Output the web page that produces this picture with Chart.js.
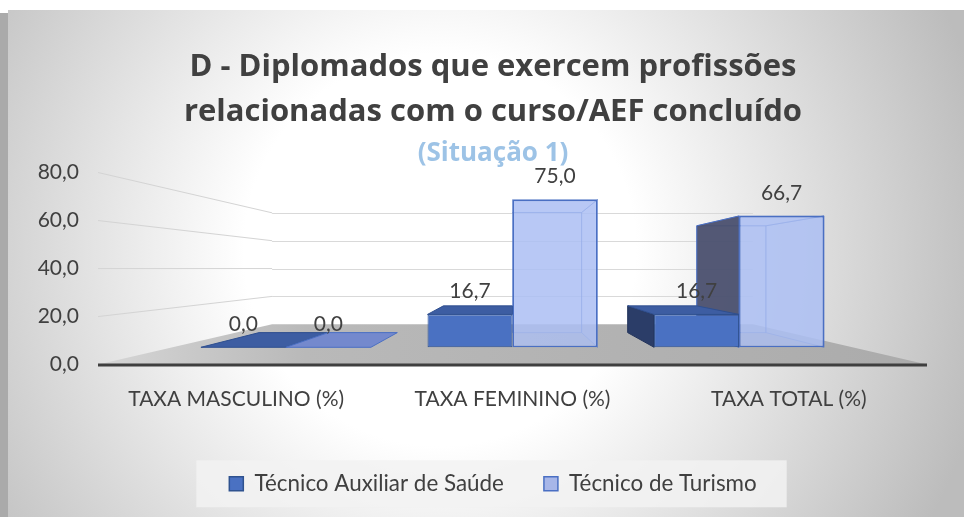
<!DOCTYPE html>
<html>
<head>
<meta charset="utf-8">
<script src="https://cdn.jsdelivr.net/npm/chart.js@4.4.1/dist/chart.umd.min.js"></script>
<style>
  html, body { margin: 0; padding: 0; background: #fff; }
  #wrap { width: 964px; height: 517px; position: relative; }
</style>
</head>
<body>
<div id="wrap"><canvas id="chart"></canvas></div>
<script>
const categories = ["TAXA MASCULINO (%)", "TAXA FEMININO (%)", "TAXA TOTAL (%)"];
const seriesNames = ["Técnico Auxiliar de Saúde", "Técnico de Turismo"];
const saude = [0.0, 16.7, 16.7];
const turismo = [0.0, 75.0, 66.7];
const yTicks = [0, 20, 40, 60, 80];
const titleLines = ["D - Diplomados que exercem profissões", "relacionadas com o curso/AEF concluído"];
const subtitleText = "(Situação 1)";

// perspective depths (1 = front of the floor, vanishing point in the middle of the plot)
const DEPTH_FRONT = 0.82;
const DEPTH_BACK = 0.667;
const DEPTH_WALL = 0.58;
const FONT = "Lato, 'Open Sans', sans-serif";
const TITLE_FONT = "'Open Sans', Lato, sans-serif";
const TEXT = "#404040";

const yMin = yTicks[0];
const yMax = yTicks[yTicks.length - 1];
const yMid = (yMin + yMax) / 2;
const yHalf = (yMax - yMin) / 2 / DEPTH_FRONT;
const xMid = (categories.length - 1) / 2;
const xHalf = categories.length / 2 / DEPTH_FRONT;

function fmt(v) {
  return Number(v).toFixed(1).replace(".", ",");
}

function proj(chart, px, py, k) {
  const a = chart.chartArea;
  const cx = (a.left + a.right) / 2;
  const cy = (a.top + a.bottom) / 2;
  return [cx + (px - cx) * k, cy + (py - cy) * k];
}

function poly(ctx, pts, fill, stroke, lw) {
  ctx.beginPath();
  ctx.moveTo(pts[0][0], pts[0][1]);
  for (let i = 1; i < pts.length; i++) ctx.lineTo(pts[i][0], pts[i][1]);
  ctx.closePath();
  if (fill) {
    ctx.fillStyle = fill;
    ctx.fill();
  }
  if (stroke) {
    ctx.strokeStyle = stroke;
    ctx.lineWidth = lw || 1;
    ctx.stroke();
  }
}

// corners of a bar: front face comes from the element, back face is pushed in depth
function barBox(chart, el) {
  const r = DEPTH_BACK / DEPTH_FRONT;
  const x0 = el.x - el.width / 2;
  const x1 = el.x + el.width / 2;
  const yt = Math.min(el.y, el.base);
  const yb = Math.max(el.y, el.base);
  return {
    x0, x1, yt, yb,
    f: [[x0, yt], [x1, yt], [x1, yb], [x0, yb]],
    b: [proj(chart, x0, yt, r), proj(chart, x1, yt, r), proj(chart, x1, yb, r), proj(chart, x0, yb, r)],
  };
}

const faceStyles = [
  { side: "#2b3d68", sideLine: "#22335a", top: "#3d5da2", topLine: "#2f4f8f", inner: null },
  { side: "rgba(72,78,108,0.93)", sideLine: "#4a6fc3", top: "#7489cd", topLine: "#4a6fc3", inner: "rgba(175,192,240,0.35)" },
];

const box3d = {
  id: "box3d",
  beforeDraw(chart) {
    const ctx = chart.ctx;
    const w = chart.width;
    const h = chart.height;
    ctx.save();
    ctx.fillStyle = "#ffffff";
    ctx.fillRect(0, 0, w, h);
    const g = ctx.createRadialGradient(440, 250, 0, 440, 250, 560);
    g.addColorStop(0, "#ffffff");
    g.addColorStop(0.35, "#ffffff");
    g.addColorStop(1, "#bcbcbc");
    ctx.fillStyle = g;
    ctx.fillRect(8, 10, w - 8, h - 10);
    ctx.fillStyle = "#aaaaaa";
    ctx.fillRect(0, 13, 8, h - 13);

    const lg = chart.legend;
    if (lg && lg.legendHitBoxes && lg.legendHitBoxes.length) {
      const hb = lg.legendHitBoxes;
      const l = Math.min(...hb.map((b) => b.left)) - 33;
      const r = Math.max(...hb.map((b) => b.left + b.width)) + 30;
      const c = hb[0].top + hb[0].height / 2;
      ctx.fillStyle = "rgba(242,242,242,0.85)";
      ctx.fillRect(l, c - 23.5, r - l, 47);
    }
    ctx.restore();
  },
  beforeDatasetsDraw(chart) {
    const ctx = chart.ctx;
    const a = chart.chartArea;
    const yt = chart.scales.yt;
    ctx.save();

    // floor
    const fl = proj(chart, a.left, a.bottom, 1);
    const fr = proj(chart, a.right, a.bottom, 1);
    const bl = proj(chart, a.left, a.bottom, DEPTH_WALL);
    const br = proj(chart, a.right, a.bottom, DEPTH_WALL);
    const fg = ctx.createLinearGradient(a.left, 0, a.right, 0);
    fg.addColorStop(0, "#d6d6d6");
    fg.addColorStop(0.25, "#b9b9b9");
    fg.addColorStop(1, "#ababab");
    poly(ctx, [bl, br, fr, fl], fg);
    ctx.beginPath();
    ctx.moveTo(fl[0], fl[1] + 0.5);
    ctx.lineTo(fr[0], fr[1] + 0.5);
    ctx.strokeStyle = "#3f3f3f";
    ctx.lineWidth = 3;
    ctx.stroke();

    // gridlines on the left wall and the back wall
    ctx.lineWidth = 1;
    yTicks.forEach((v) => {
      if (v === yMin) return;
      const y = yt.getPixelForValue(v);
      const p0 = proj(chart, a.left, y, 1);
      const p1 = proj(chart, a.left, y, DEPTH_WALL);
      const p2 = proj(chart, a.right, y, DEPTH_WALL);
      ctx.beginPath();
      ctx.moveTo(p0[0], p0[1]);
      ctx.lineTo(p1[0], p1[1]);
      ctx.strokeStyle = "#d4d4d4";
      ctx.stroke();
      ctx.beginPath();
      ctx.moveTo(p1[0], Math.round(p1[1]) + 0.5);
      ctx.lineTo(p2[0], Math.round(p2[1]) + 0.5);
      ctx.strokeStyle = "#d9d9d9";
      ctx.stroke();
    });

    const cx = (a.left + a.right) / 2;
    const cy = (a.top + a.bottom) / 2;
    const boxes = chart.data.datasets.map((ds, di) =>
      chart.getDatasetMeta(di).data.map((el) => barBox(chart, el))
    );

    // back faces and hidden faces of the see-through series
    boxes.forEach((list, di) => {
      const st = faceStyles[di];
      if (!st.inner) return;
      list.forEach((bx) => {
        if (bx.yb - bx.yt < 0.5) return;
        poly(ctx, bx.b, st.inner, "rgba(74,111,195,0.55)", 1);
        if (bx.x0 <= cx) poly(ctx, [bx.f[0], bx.b[0], bx.b[3], bx.f[3]], st.inner, "rgba(74,111,195,0.55)", 1);
        if (bx.x1 >= cx) poly(ctx, [bx.f[1], bx.b[1], bx.b[2], bx.f[2]], st.inner, "rgba(74,111,195,0.55)", 1);
        if (bx.yt <= cy) poly(ctx, [bx.f[0], bx.f[1], bx.b[1], bx.b[0]], st.inner, "rgba(74,111,195,0.55)", 1);
      });
    });

    // outer side faces
    boxes.forEach((list, di) => {
      const st = faceStyles[di];
      list.forEach((bx) => {
        if (bx.yb - bx.yt < 0.5) return;
        if (bx.x0 > cx + 0.5) poly(ctx, [bx.f[0], bx.b[0], bx.b[3], bx.f[3]], st.side, st.sideLine, 1);
        if (bx.x1 < cx - 0.5) poly(ctx, [bx.f[1], bx.b[1], bx.b[2], bx.f[2]], st.side, st.sideLine, 1);
      });
    });

    // top faces seen from above
    boxes.forEach((list, di) => {
      const st = faceStyles[di];
      list.forEach((bx) => {
        if (bx.yt > cy) poly(ctx, [bx.f[0], bx.f[1], bx.b[1], bx.b[0]], st.top, st.topLine, 1);
      });
    });
    ctx.restore();
  },
  afterDatasetsDraw(chart) {
    const ctx = chart.ctx;
    ctx.save();
    ctx.fillStyle = TEXT;
    ctx.font = "21px " + FONT;
    ctx.textAlign = "center";
    ctx.textBaseline = "middle";
    chart.data.datasets.forEach((ds, di) => {
      chart.getDatasetMeta(di).data.forEach((el, i) => {
        const top = Math.min(el.y, el.base);
        ctx.fillText(fmt(ds.data[i].y), el.x, top - 23);
      });
    });
    ctx.restore();
  },
};

const legendColors = [
  { fill: "#4a71c2", stroke: "#2f528f" },
  { fill: "#a7b6e8", stroke: "#4a6fc3" },
];

new Chart(document.getElementById("chart"), {
  type: "bar",
  data: {
    datasets: [
      {
        label: seriesNames[0],
        data: saude.map((v, i) => ({ x: i, y: v })),
        backgroundColor: "#4a71c2",
        borderColor: "#2f528f",
        borderWidth: 1,
        borderSkipped: false,
      },
      {
        label: seriesNames[1],
        data: turismo.map((v, i) => ({ x: i, y: v })),
        backgroundColor: "rgba(172,191,243,0.78)",
        borderColor: "#4a6fc3",
        borderWidth: 1.5,
        borderSkipped: false,
      },
    ],
  },
  options: {
    responsive: true,
    maintainAspectRatio: false,
    animation: false,
    categoryPercentage: 0.75,
    barPercentage: 1,
    layout: {
      padding: { left: 22, right: 0, top: 0, bottom: 12 },
    },
    plugins: {
      tooltip: { enabled: false },
      title: {
        display: true,
        text: titleLines,
        color: TEXT,
        font: { family: TITLE_FONT, size: 31, weight: "bold", lineHeight: 1.45 },
        padding: { top: 45, bottom: 4 },
      },
      subtitle: {
        display: true,
        text: subtitleText,
        color: "#9dc3e6",
        font: { family: TITLE_FONT, size: 26, weight: "bold", lineHeight: 1.1 },
        padding: { top: 0, bottom: 5 },
      },
      legend: {
        position: "bottom",
        labels: {
          boxWidth: 14,
          boxHeight: 14,
          padding: 40,
          color: TEXT,
          font: { family: FONT, size: 22.4 },
          generateLabels(chart) {
            const items = Chart.defaults.plugins.legend.labels.generateLabels(chart);
            items.forEach((it, i) => {
              it.fillStyle = legendColors[i].fill;
              it.strokeStyle = legendColors[i].stroke;
              it.lineWidth = 1.5;
            });
            return items;
          },
        },
      },
    },
    scales: {
      x: {
        type: "linear",
        display: false,
        offset: false,
        bounds: "data",
        min: xMid - xHalf,
        max: xMid + xHalf,
        grid: { offset: false },
        afterBuildTicks(s) {
          s.ticks = categories.map((c, i) => ({ value: i }));
        },
      },
      y: {
        type: "linear",
        position: "right",
        min: yMid - yHalf,
        max: yMid + yHalf,
        grid: { display: false, drawTicks: false },
        border: { display: false },
        ticks: { display: false },
        afterFit(s) {
          s.width = 37;
        },
      },
      xt: {
        type: "category",
        labels: categories,
        position: "bottom",
        offset: true,
        grid: { display: false, drawTicks: false },
        border: { display: false },
        ticks: {
          color: TEXT,
          font: { family: FONT, size: 21 },
          padding: 22,
          maxRotation: 0,
          autoSkip: false,
        },
        afterFit(s) {
          s.height = 68;
        },
      },
      yt: {
        type: "linear",
        position: "left",
        min: yMin,
        max: yMax,
        grid: { display: false, drawTicks: false },
        border: { display: false },
        afterBuildTicks(s) {
          s.ticks = yTicks.map((v) => ({ value: v }));
        },
        ticks: {
          color: TEXT,
          font: { family: FONT, size: 21 },
          padding: 19,
          callback: (v) => fmt(v),
        },
        afterFit(s) {
          s.width = 76;
        },
      },
    },
  },
  plugins: [box3d],
});
</script>
</body>
</html>
